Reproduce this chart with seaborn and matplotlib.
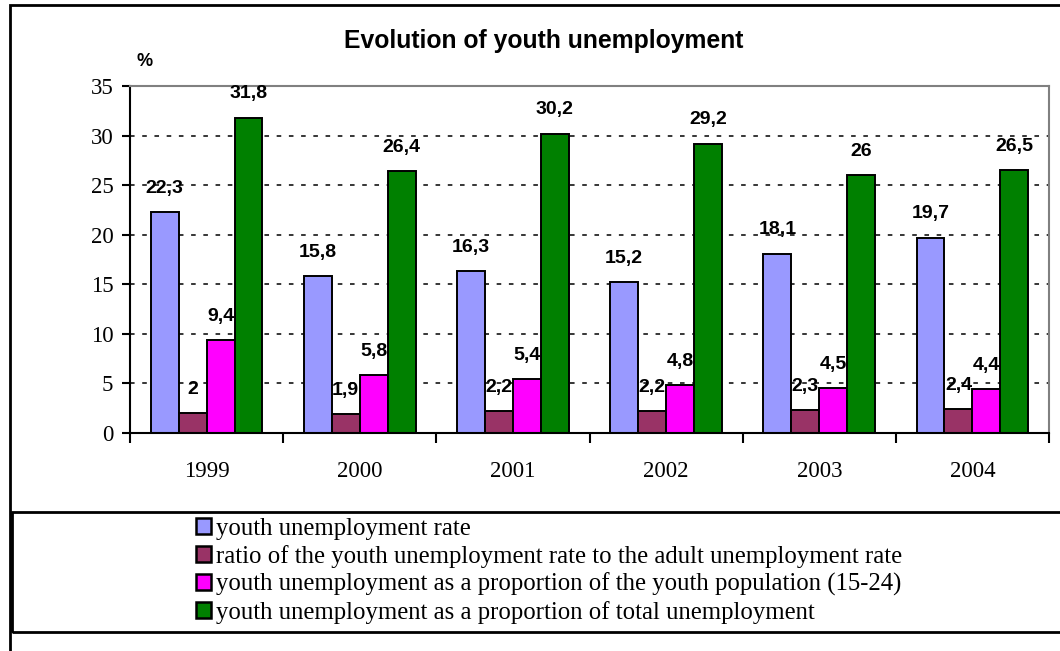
import matplotlib
matplotlib.use("Agg")
import matplotlib.pyplot as plt
from matplotlib.patches import Rectangle
from matplotlib.ticker import MultipleLocator, FixedLocator
import numpy as np
import pandas as pd
import seaborn as sns

years = ["1999", "2000", "2001", "2002", "2003", "2004"]
series_names = [
    "youth unemployment rate",
    "ratio of the youth unemployment rate to the adult unemployment rate",
    "youth unemployment as a proportion of the youth population (15-24)",
    "youth unemployment as a proportion of total unemployment",
]
youth_rate = [22.3, 15.8, 16.3, 15.2, 18.1, 19.7]
youth_adult_ratio = [2.0, 1.9, 2.2, 2.2, 2.3, 2.4]
share_of_youth_pop = [9.4, 5.8, 5.4, 4.8, 4.5, 4.4]
share_of_total = [31.8, 26.4, 30.2, 29.2, 26.0, 26.5]
colors = ["#9999FF", "#993366", "#FF00FF", "#008000"]

all_series = [youth_rate, youth_adult_ratio, share_of_youth_pop, share_of_total]
df = pd.DataFrame(
    [(y, name, v) for name, vals in zip(series_names, all_series) for y, v in zip(years, vals)],
    columns=["year", "series", "value"],
)

sns.set_theme(style="white")
plt.rcParams["font.family"] = ["Liberation Sans", "DejaVu Sans"]
plt.rcParams["text.color"] = "black"

fig = plt.figure(figsize=(10.6, 6.51), dpi=100)
W, H = 1060, 651
ax = fig.add_axes([130 / W, 1 - 433 / H, (1049 - 130) / W, (433 - 86) / H])

sns.barplot(
    data=df, x="year", y="value", hue="series", hue_order=series_names,
    order=years, palette=colors, width=0.73, edgecolor="black",
    linewidth=1.4, saturation=1, legend=False, ax=ax, errorbar=None,
)

ax.set_ylim(0, 35)
ax.set_xlim(-0.5, len(years) - 0.5)
ax.yaxis.set_major_locator(MultipleLocator(5))
ax.grid(axis="y", color="black", linestyle=(0, (3, 5)), linewidth=1.1)
ax.set_axisbelow(True)
ax.set_xlabel("")
ax.set_ylabel("")

for side in ["left", "bottom"]:
    ax.spines[side].set_color("black")
    ax.spines[side].set_linewidth(1.5)
for side in ["top", "right"]:
    ax.spines[side].set_color("#808080")
    ax.spines[side].set_linewidth(1.5)

ax.tick_params(axis="y", which="major", left=True, length=6, width=1.5, color="black",
               labelsize=16.5, pad=6)
ax.tick_params(axis="x", which="major", bottom=False, labelsize=16.5, pad=14)
ax.xaxis.set_minor_locator(FixedLocator(np.arange(-0.5, len(years), 1.0)))
ax.tick_params(axis="x", which="minor", bottom=True, length=7, width=1.5, color="black")
for lab in ax.get_xticklabels() + ax.get_yticklabels():
    lab.set_fontfamily("Liberation Serif")
    lab.set_color("black")

for container, vals in zip(ax.containers, all_series):
    labels = [f"{v:g}".replace(".", ",") for v in vals]
    ax.bar_label(container, labels=labels, padding=11, fontsize=14,
                 fontweight="bold", color="black")

fig.text(544 / W, 1 - 41 / H, "Evolution of youth unemployment", ha="center",
         va="center", fontsize=17.8, fontweight="bold", color="black")
fig.text(145 / W, 1 - 61 / H, "%", ha="center", va="center", fontsize=13,
         fontweight="bold", color="black")

# Outer frame and legend frame
fig.patches.append(Rectangle((10 / W, -0.1), 1.2, 1 - 5 / H + 0.1, transform=fig.transFigure,
                             fill=False, edgecolor="black", linewidth=2))
fig.patches.append(Rectangle((12 / W, 1 - 632 / H), 1.2, (632 - 512) / H, transform=fig.transFigure,
                             fill=False, edgecolor="black", linewidth=2))

handles = [Rectangle((0, 0), 1, 1, facecolor=c, edgecolor="black", linewidth=1.8) for c in colors]
fig.legend(handles, series_names, loc="upper left", bbox_to_anchor=(192 / W, 1 - 514 / H),
           frameon=False, prop={"family": "Liberation Serif", "size": 17.8},
           labelcolor="black",
           handlelength=0.62, handleheight=0.6, handletextpad=0.22, labelspacing=0.2,
           borderpad=0.15, borderaxespad=0.0)

fig.savefig("out.png", dpi=100)
